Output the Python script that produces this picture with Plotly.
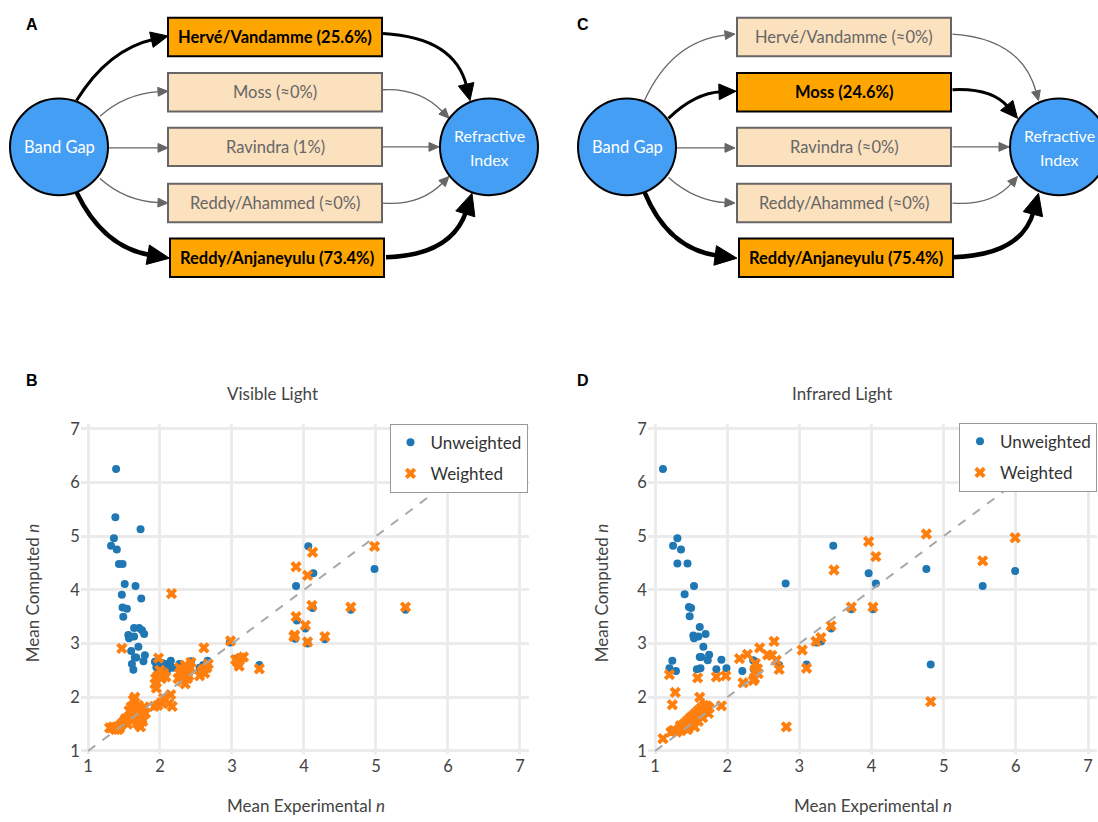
import plotly.graph_objects as go

W, H = 1098, 822

# ---------------- data ----------------
A_labels = ["Hervé/Vandamme (25.6%)", "Moss (≈0%)", "Ravindra (1%)",
            "Reddy/Ahammed (≈0%)", "Reddy/Anjaneyulu (73.4%)"]
A_weights = [25.6, 0.0, 1.0, 0.0, 73.4]
C_labels = ["Hervé/Vandamme (≈0%)", "Moss (24.6%)", "Ravindra (≈0%)",
            "Reddy/Ahammed (≈0%)", "Reddy/Anjaneyulu (75.4%)"]
C_weights = [0.0, 24.6, 0.0, 0.0, 75.4]
source_label = "Band Gap"
target_label = ["Refractive", "Index"]

B_unw_x = [1.39, 1.38, 1.73, 1.36, 1.32, 1.40, 1.43, 1.48, 1.51, 1.66, 1.47, 1.74, 1.48, 1.54, 1.49,
           1.64, 1.71, 1.75, 1.56, 1.57, 1.64, 1.78, 1.70, 1.60, 1.65, 1.67, 1.79, 1.77, 1.61, 1.63,
           1.93, 1.97, 2.00, 2.04, 2.08, 2.12, 2.15, 2.03, 2.18, 1.95, 2.10,
           2.27, 2.33, 2.37, 2.41, 2.43, 2.30, 2.55, 2.60, 2.66, 2.62,
           2.97, 3.07, 3.38,
           3.89, 4.06, 4.13, 4.98, 3.90, 4.02, 3.88, 4.05, 4.12, 4.29, 4.65, 5.41,
           1.40, 1.60, 1.75, 2.00]
B_unw_y = [6.25, 5.35, 5.13, 4.96, 4.82, 4.75, 4.48, 4.48, 4.11, 4.07, 3.91, 3.84, 3.67, 3.65, 3.50,
           3.29, 3.29, 3.25, 3.16, 3.10, 3.13, 3.18, 2.94, 2.86, 2.74, 2.74, 2.78, 2.67, 2.62, 2.51,
           2.66, 2.52, 2.60, 2.55, 2.62, 2.58, 2.68, 2.64, 2.55, 2.56, 2.50,
           2.62, 2.53, 2.50, 2.55, 2.67, 2.56, 2.55, 2.60, 2.68, 2.58,
           3.02, 2.72, 2.60,
           4.07, 4.81, 4.31, 4.39, 3.43, 3.28, 3.09, 3.00, 3.66, 3.08, 3.63, 3.63,
           1.45, 1.65, 1.75, 1.90]

B_w_x = [1.47, 2.16, 2.61, 2.98,
         3.05, 3.08, 3.10, 3.12, 3.16, 3.38,
         3.89, 4.05, 4.12, 4.98, 3.89, 4.02, 3.87, 3.86, 4.05, 4.11, 4.29, 4.65, 5.41,
         1.92, 1.97, 2.02, 2.07, 2.12, 2.15, 2.17, 2.05,
         1.93, 1.95, 1.97, 2.00, 1.98, 2.02, 2.05, 2.08, 1.94, 2.03,
         2.25, 2.27, 2.28, 2.30, 2.32, 2.33, 2.35, 2.37, 2.38, 2.40, 2.42, 2.43, 2.30, 2.35,
         2.55, 2.58, 2.62, 2.65, 2.67, 2.60,
         1.30, 1.33, 1.37, 1.40, 1.42, 1.45, 1.48, 1.50, 1.52, 1.55, 1.57, 1.60, 1.62, 1.63,
         1.63, 1.65, 1.65, 1.67, 1.68, 1.70, 1.72, 1.73, 1.75, 1.77, 1.78, 1.80, 1.57, 1.60,
         1.35, 1.38, 1.44, 1.70, 1.76]
B_w_y = [2.91, 3.93, 2.92, 3.05,
         2.70, 2.65, 2.58, 2.73, 2.75, 2.53,
         4.43, 4.27, 4.70, 4.81, 3.50, 3.34, 3.16, 3.13, 3.03, 3.71, 3.13, 3.68, 3.68,
         1.83, 1.85, 1.90, 1.95, 1.88, 2.05, 1.83, 1.98,
         2.25, 2.17, 2.40, 2.50, 2.73, 2.35, 2.45, 2.38, 2.35, 2.42,
         2.35, 2.55, 2.45, 2.30, 2.40, 2.50, 2.25, 2.45, 2.35, 2.40, 2.55, 2.65, 2.50, 2.60,
         2.40, 2.48, 2.45, 2.55, 2.62, 2.52,
         1.43, 1.43, 1.42, 1.45, 1.40, 1.48, 1.52, 1.55, 1.60, 1.50, 1.62, 1.65, 1.58, 1.70,
         1.95, 2.00, 1.80, 1.72, 1.55, 1.85, 1.66, 1.45, 1.60, 1.78, 1.82, 1.70, 1.75, 1.82,
         1.45, 1.40, 1.43, 1.50, 1.55]

D_unw_x = [1.11, 1.31, 1.25, 1.36, 1.31, 1.45, 1.54, 1.41, 1.47, 1.50, 1.48, 1.62, 1.53, 1.54,
           1.60, 1.70, 1.67, 1.62, 1.64, 1.75, 1.73, 1.63, 1.58, 1.24, 1.20, 1.29, 1.92, 1.85,
           1.99, 2.21, 2.36, 2.37, 2.39, 2.72, 3.10, 3.24,
           2.81, 3.47, 3.44, 3.96, 4.06, 3.72, 4.02, 3.30, 4.76, 4.82, 5.54, 5.99,
           1.40, 1.60]
D_unw_y = [6.25, 4.96, 4.82, 4.75, 4.49, 4.49, 4.07, 3.92, 3.68, 3.66, 3.51, 3.31, 3.15, 3.10,
           3.13, 3.18, 2.94, 2.75, 2.75, 2.79, 2.69, 2.54, 2.52, 2.68, 2.54, 2.49, 2.70, 2.52,
           2.54, 2.49, 2.69, 2.52, 2.66, 2.60, 2.61, 3.02,
           4.12, 4.82, 3.28, 4.31, 4.12, 3.64, 3.64, 3.04, 4.39, 2.61, 4.07, 4.35,
           1.45, 1.65]

D_w_x = [3.48, 3.96, 4.06, 3.72, 4.02, 3.44, 3.30, 4.76, 4.82, 5.54, 5.99,
         3.23, 3.04, 3.10, 2.82, 2.65, 2.72, 2.68, 2.45, 2.56, 2.62, 2.28, 2.17, 2.22, 2.36,
         2.38, 2.39, 2.42, 2.43, 2.38, 1.98, 1.85, 1.92, 1.59, 1.20, 1.28, 1.24, 1.11, 1.62,
         1.22, 1.27, 1.30, 1.33, 1.36, 1.38, 1.40, 1.42, 1.44, 1.46, 1.48, 1.50, 1.52, 1.54,
         1.56, 1.58, 1.60, 1.62, 1.64, 1.66, 1.68, 1.70, 1.72, 1.66, 1.50, 1.45, 1.55, 1.60,
         1.35, 1.25, 1.75, 1.74]
D_w_y = [4.37, 4.90, 4.62, 3.68, 3.68, 3.33, 3.11, 5.04, 1.92, 4.54, 4.97,
         3.04, 2.88, 2.54, 1.45, 3.04, 2.52, 2.69, 2.92, 2.79, 2.78, 2.80, 2.72, 2.27, 2.31,
         2.47, 2.63, 2.53, 2.44, 2.35, 2.40, 2.38, 1.84, 2.36, 2.42, 2.09, 1.86, 1.23, 2.00,
         1.35, 1.38, 1.35, 1.40, 1.38, 1.45, 1.50, 1.42, 1.55, 1.48, 1.60, 1.52, 1.65, 1.58,
         1.70, 1.62, 1.75, 1.68, 1.80, 1.72, 1.85, 1.78, 1.84, 1.62, 1.62, 1.40, 1.45, 1.55,
         1.47, 1.38, 1.80, 1.70]

identity_line = [1, 7]
tick_vals = [1, 2, 3, 4, 5, 6, 7]

# ---------------- helpers (pixel -> paper) ----------------
def px(x):
    return x / W

def py(y):
    return 1 - y / H

FONT = "Lato"
shapes = []
annotations = []


def note(x, y, text, font, **kw):
    d = dict(x=px(x), y=py(y), xref="paper", yref="paper", text=text, showarrow=False,
             xanchor="center", yanchor="middle", font=font)
    d.update(kw)
    annotations.append(d)


def arrow(start, ctrl, tip, color, width, hl, hw):
    import math
    dx, dy = tip[0] - ctrl[0], tip[1] - ctrl[1]
    d = math.hypot(dx, dy)
    ux, uy = dx / d, dy / d
    bx, by = tip[0] - ux * hl * 0.85, tip[1] - uy * hl * 0.85
    b0x, b0y = tip[0] - ux * hl, tip[1] - uy * hl
    nx, ny = -uy, ux
    path = "M %f,%f Q %f,%f %f,%f" % (px(start[0]), py(start[1]), px(ctrl[0]), py(ctrl[1]), px(bx), py(by))
    shapes.append(dict(type="path", xref="paper", yref="paper", path=path,
                       line=dict(color=color, width=width)))
    head = "M %f,%f L %f,%f L %f,%f Z" % (px(tip[0]), py(tip[1]),
                                          px(b0x + nx * hw), py(b0y + ny * hw),
                                          px(b0x - nx * hw), py(b0y - ny * hw))
    shapes.append(dict(type="path", xref="paper", yref="paper", path=head,
                       fillcolor=color, line=dict(color=color, width=1)))


def style(w):
    if w > 50:
        return "black", 4.5, 22, 10
    if w > 10:
        return "black", 3, 17, 8
    return "#666666", 1.3, 10, 4.5


def diagram(ox, labels, weights, letter, src_c, tgt_c, box_x0, box_x1, left_geo, right_geo):
    box_tops = [13, 69, 124.5, 181.5, 237]
    box_h = 39
    for i, (s, c, t) in enumerate(left_geo):
        col, wd, hl, hw = style(weights[i])
        arrow(s, c, t, col, wd, hl, hw)
    for i, (s, c, t) in enumerate(right_geo):
        col, wd, hl, hw = style(weights[i])
        arrow(s, c, t, col, wd, hl, hw)
    for i, lab in enumerate(labels):
        hi = weights[i] > 10
        x0 = box_x0 + (2 if i == 4 else 0)
        x1 = box_x1 + (2 if i == 4 else 0)
        y0 = box_tops[i]
        shapes.append(dict(type="rect", xref="paper", yref="paper",
                           x0=px(x0), x1=px(x1), y0=py(y0 + box_h), y1=py(y0),
                           fillcolor="#FFA500" if hi else "#FBE1BE",
                           line=dict(color="black" if hi else "#666666", width=2)))
        note((x0 + x1) / 2, y0 + box_h / 2, "<b>%s</b>" % lab if hi else lab,
             dict(family=FONT, size=16.5, color="black" if hi else "#666666"))
    for (cx, cy) in [src_c, tgt_c]:
        r = 49
        shapes.append(dict(type="circle", xref="paper", yref="paper",
                           x0=px(cx - r), x1=px(cx + r), y0=py(cy + r), y1=py(cy - r),
                           fillcolor="#439EF4", line=dict(color="black", width=2)))
    note(src_c[0], src_c[1], source_label, dict(family=FONT, size=16.5, color="white"))
    note(tgt_c[0], tgt_c[1] - 11.5, target_label[0], dict(family=FONT, size=16, color="white"))
    note(tgt_c[0], tgt_c[1] + 12.5, target_label[1], dict(family=FONT, size=16, color="white"))
    note(ox, 20, "<b>%s</b>" % letter, dict(family="Liberation Sans", size=16, color="black"))


# Panel A geometry
A_left = [((76.5, 97), (108, 45), (168, 31.5)),
          ((100, 113), (125, 90), (168, 87.5)),
          ((109, 145), (138, 145), (168, 145)),
          ((100, 176), (125, 199), (168, 201)),
          ((76.5, 190), (103, 246), (169.5, 257))]
A_right = [((383, 29), (455, 33), (470, 97)),
           ((383, 86), (420, 84), (449, 115)),
           ((383, 144), (410, 144), (439, 144)),
           ((383, 201), (420, 204), (449, 174)),
           ((386, 256), (452, 254), (472, 191))]
diagram(32, A_labels, A_weights, "A", (59, 144), (489, 144), 168, 382, A_left, A_right)

# Panel C geometry
C_left = [((644.5, 97), (672, 36), (735, 29.5)),
          ((668.5, 115), (695, 89), (736, 87.5)),
          ((676, 145), (705, 145), (735, 145)),
          ((668.5, 175), (695, 199), (735, 201)),
          ((644.5, 190), (668, 248), (737, 257))]
C_right = [((952.5, 29.5), (1022, 34), (1038.5, 97)),
           ((952.5, 86), (992, 84), (1017.5, 115)),
           ((952.5, 144), (980, 144), (1009, 144)),
           ((952.5, 201), (992, 204), (1017.5, 174)),
           ((952.5, 256), (1022, 254), (1038.5, 191))]
diagram(583, C_labels, C_weights, "C", (627, 144), (1059, 144), 737, 951, C_left, C_right)

# ---------------- scatter panels ----------------
fig = go.Figure()
BLUE, ORANGE = "#1f77b4", "#ff7f0e"

for (ux, uy, wx, wy, xa, ya, lg) in [(B_unw_x, B_unw_y, B_w_x, B_w_y, "x", "y", "legend"),
                                      (D_unw_x, D_unw_y, D_w_x, D_w_y, "x2", "y2", "legend2")]:
    fig.add_trace(go.Scatter(x=ux, y=uy, mode="markers", name="Unweighted", xaxis=xa, yaxis=ya,
                             legend=lg, legendgroup=lg + "u",
                             marker=dict(color=BLUE, size=8, symbol="circle", line=dict(width=0))))
    fig.add_trace(go.Scatter(x=wx, y=wy, mode="markers", name="Weighted", xaxis=xa, yaxis=ya,
                             legend=lg, legendgroup=lg + "w",
                             marker=dict(color=ORANGE, size=10, symbol="x", line=dict(width=0))))
    fig.add_trace(go.Scatter(x=identity_line, y=identity_line, mode="lines", xaxis=xa, yaxis=ya,
                             showlegend=False, hoverinfo="skip",
                             line=dict(color="#A8A8A8", width=2, dash="dash")))

axis_common = dict(range=[0.9, 7.12], tickvals=tick_vals, showgrid=True, gridcolor="#EBEBEB",
                   gridwidth=3, zeroline=False, showline=False, ticks="",
                   tickfont=dict(family=FONT, size=16.5, color="#444444"))
yaxis_common = dict(axis_common)
yaxis_common["range"] = [0.94, 7.09]

ydom = [py(760.3), py(425.1)]
fig.update_layout(
    xaxis=dict(axis_common, domain=[px(80.8), px(528.6)], anchor="y"),
    yaxis=dict(yaxis_common, domain=ydom, anchor="x"),
    xaxis2=dict(axis_common, domain=[px(647.8), px(1096.7)], anchor="y2"),
    yaxis2=dict(yaxis_common, domain=ydom, anchor="x2"),
)

leg_common = dict(xanchor="right", yanchor="top", bgcolor="white", bordercolor="#999999",
                  borderwidth=1, font=dict(family=FONT, size=17, color="#333333"),
                  tracegroupgap=6, itemsizing="trace", itemwidth=30)
fig.update_layout(legend=dict(leg_common, x=px(527.5), y=py(425)),
                  legend2=dict(leg_common, x=px(1097), y=py(424)))

# titles / axis labels / panel letters
for (cx, title, letter, lx, ytx) in [(272, "Visible Light", "B", 32, 32),
                                      (842, "Infrared Light", "D", 583, 601)]:
    note(cx, 394, title, dict(family=FONT, size=17, color="#444444"))
    note(lx, 381, "<b>%s</b>" % letter, dict(family="Liberation Sans", size=16, color="black"))
    note(ytx, 597, "Mean Computed <i>n</i>", dict(family=FONT, size=17, color="#444444"), textangle=-90)
note(306, 812, "Mean Experimental <i>n</i>", dict(family=FONT, size=17, color="#444444"))
note(873, 812, "Mean Experimental <i>n</i>", dict(family=FONT, size=17, color="#444444"))

fig.update_layout(width=W, height=H, margin=dict(l=0, r=0, t=0, b=0, pad=0),
                  paper_bgcolor="white", plot_bgcolor="white",
                  shapes=shapes, annotations=annotations,
                  font=dict(family=FONT), showlegend=True)

fig.write_html("out.html", config={"displayModeBar": False},
               post_script="document.body.style.margin='0';document.body.style.overflow='hidden';")
